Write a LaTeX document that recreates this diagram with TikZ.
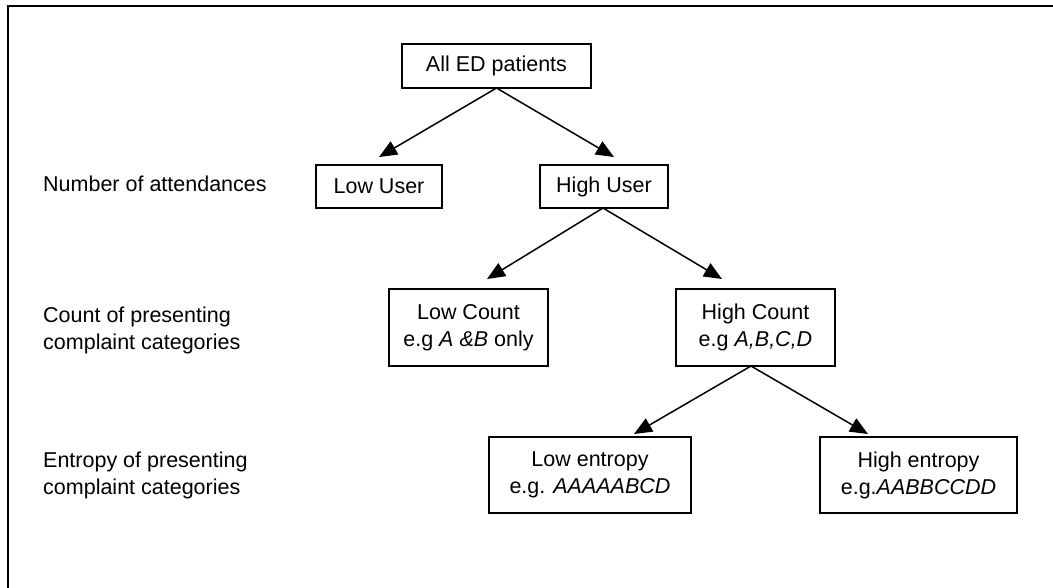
\documentclass[tikz,border=0pt]{standalone}
\usepackage{fontspec}
\setmainfont{Liberation Sans}
\usetikzlibrary{arrows.meta}
\begin{document}
\begin{tikzpicture}[x=1pt,y=-1pt,
  every node/.style={font=\fontsize{21.5}{27}\selectfont},
  box/.style={draw, line width=1.5pt, inner sep=0pt, align=center},
  lab/.style={anchor=west, align=left, inner sep=0pt},
  arr/.style={line width=1.5pt, -{Triangle[length=18pt,width=15pt]}}]
\useasboundingbox (0,0) rectangle (1053,587);
\draw[line width=2pt] (8,590) -- (8,6) -- (1056,6);
% boxes
\node[box, minimum width=189pt, minimum height=44pt] (all) at (496.5,66) {All ED patients};
\node[box, minimum width=126pt, minimum height=43pt] (lowu) at (379,186.5) {Low User};
\node[box, minimum width=128pt, minimum height=43pt] (highu) at (604,186.5) {High User};
\node[box, minimum width=159pt, minimum height=77pt] (lowc) at (468.5,327.5) {Low Count\\e.g \textit{A \&B} only};
\node[box, minimum width=159pt, minimum height=77pt] (highc) at (755.5,327.5) {High Count\\e.g \textit{A,B,C,D}};
\node[box, minimum width=202pt, minimum height=76pt] (lowe) at (590,475) {Low entropy\\e.g. \textit{AAAAABCD}};
\node[box, minimum width=197pt, minimum height=76pt] (highe) at (918.5,475) {High entropy\\e.g.\textit{AABBCCDD}};
% labels
\node[lab] (l1) at (43,184) {Number of attendances};
\node[lab] (l2) at (43,330) {Count of presenting\\complaint categories};
\node[lab] (l3) at (43,475) {Entropy of presenting\\complaint categories};
% arrow tips
\coordinate (t1) at (379,157);
\coordinate (t2) at (614,157);
\coordinate (t3) at (487,279);
\coordinate (t4) at (722,279);
\coordinate (t5) at (634,434);
\coordinate (t6) at (868,434);
\coordinate (s1) at (496.5,88);
\coordinate (s2) at (603,208);
\coordinate (s3) at (751,366);
\draw[arr] (s1) -- (t1);
\draw[arr] (s1) -- (t2);
\draw[arr] (s2) -- (t3);
\draw[arr] (s2) -- (t4);
\draw[arr] (s3) -- (t5);
\draw[arr] (s3) -- (t6);
\end{tikzpicture}
\end{document}
